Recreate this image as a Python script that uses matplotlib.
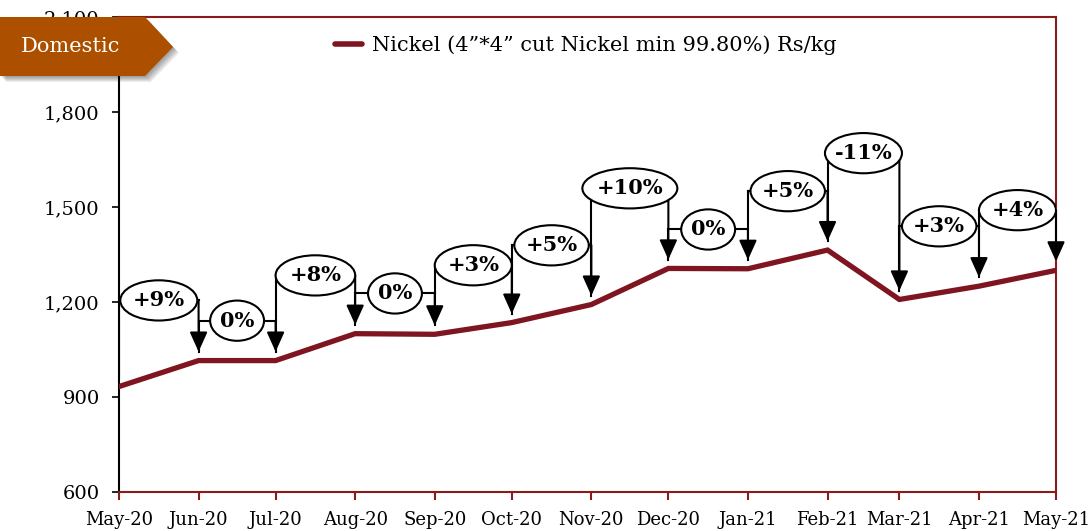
import matplotlib
matplotlib.use("Agg")
import matplotlib.pyplot as plt
from matplotlib.patches import Ellipse, Polygon
from matplotlib.ticker import FuncFormatter
import matplotlib.dates as mdates
import pandas as pd

# Données : prix mensuel du nickel (Rs/kg)
mois = pd.date_range("2020-05-01", "2021-05-01", freq="MS")
prix = [933, 1015, 1015, 1100, 1098, 1135, 1192, 1306, 1305, 1364, 1208, 1250, 1300]
variations = ["+9%", "0%", "+8%", "0%", "+3%", "+5%", "+10%", "0%", "+5%", "-11%", "+3%", "+4%"]

# Hauteur des bulles de variation (Rs/kg) et largeur (jours)
niveaux = [1205, 1141, 1284, 1227, 1316, 1379, 1559, 1429, 1550, 1670, 1439, 1490]
largeurs = [30, 21, 31, 21, 30, 29, 37, 21, 29, 30, 29, 30]

rouge = "#7E1520"
bord = "#8B1A1A"
serif = "DejaVu Serif"

fig = plt.figure(figsize=(10.91, 5.31), dpi=100)
ax = fig.add_axes([119 / 1091, 39 / 531, 937 / 1091, 475 / 531])

ax.plot(mois, prix, color=rouge, linewidth=3.8, solid_joinstyle="miter",
        label="Nickel (4”*4” cut Nickel min 99.80%) Rs/kg", zorder=3)

# Bulles + flèches entre chaque mois
ecart = 28
for i in range(len(variations)):
    x0, x1 = mois[i], mois[i + 1]
    y = niveaux[i]
    ax.plot([x0, x1], [y, y], color="black", linewidth=1.5, zorder=4)
    ax.plot([x0, x0], [prix[i] + ecart, y], color="black", linewidth=1.5, zorder=4)
    ax.annotate("", xy=(x1, prix[i + 1] + ecart), xytext=(x1, y),
                arrowprops=dict(arrowstyle="-|>,head_length=0.6,head_width=0.27",
                                color="black", linewidth=1.5, shrinkA=0, shrinkB=0,
                                mutation_scale=20),
                zorder=4)
    xc = x0 + (x1 - x0) / 2
    ell = Ellipse((mdates.date2num(xc), y), largeurs[i], 127,
                  facecolor="white", edgecolor="black", linewidth=1.5, zorder=5)
    ax.add_patch(ell)
    ax.text(xc, y, variations[i], ha="center", va="center", fontsize=15,
            fontweight="bold", family=serif, zorder=6)

ax.set_ylim(600, 2100)
ax.set_yticks(range(600, 2101, 300))
ax.yaxis.set_major_formatter(FuncFormatter(lambda v, p: f"{int(v):,}"))
ax.set_xlim(mois[0], mois[-1])
ax.set_xticks(mois)
ax.xaxis.set_major_formatter(mdates.DateFormatter("%b-%y"))

for cote in ["top", "right", "bottom"]:
    ax.spines[cote].set_color(bord)
    ax.spines[cote].set_linewidth(1.5)
ax.spines["left"].set_color("black")
ax.spines["left"].set_linewidth(1.5)
ax.tick_params(axis="y", colors="black", length=5, width=1.2, labelsize=14, pad=9)
ax.tick_params(axis="x", color=bord, length=6, width=1.5, labelsize=13,
               labelcolor="black", pad=8)
for lab in ax.get_xticklabels() + ax.get_yticklabels():
    lab.set_family(serif)

leg = ax.legend(loc="upper left", bbox_to_anchor=(0.21, 1.0), frameon=False,
                handlelength=1.3, handletextpad=0.5, prop={"family": serif, "size": 15})
for ligne in leg.get_lines():
    ligne.set_linewidth(4)
    ligne.set_solid_capstyle("round")

# Étiquette "Domestic" en haut à gauche
def px(x, y):
    return (x / 1091, 1 - y / 531)

forme = [(0, 17), (145, 17), (173, 47), (145, 76), (0, 76)]
# ombre floue : plusieurs couches décalées
for k in range(1, 7):
    ombre = Polygon([px(x + k, y + k) for x, y in forme], closed=True,
                    transform=fig.transFigure, facecolor="black", edgecolor="none",
                    alpha=0.07, zorder=10)
    fig.patches.append(ombre)
tag = Polygon([px(x, y) for x, y in forme], closed=True, transform=fig.transFigure,
              facecolor="#AC5000", edgecolor="none", zorder=11)
fig.patches.append(tag)
fig.text(70 / 1091, 1 - 47 / 531, "Domestic", color="white", ha="center", va="center",
         fontsize=15, family=serif, zorder=12)

fig.savefig("out.png", dpi=100)
